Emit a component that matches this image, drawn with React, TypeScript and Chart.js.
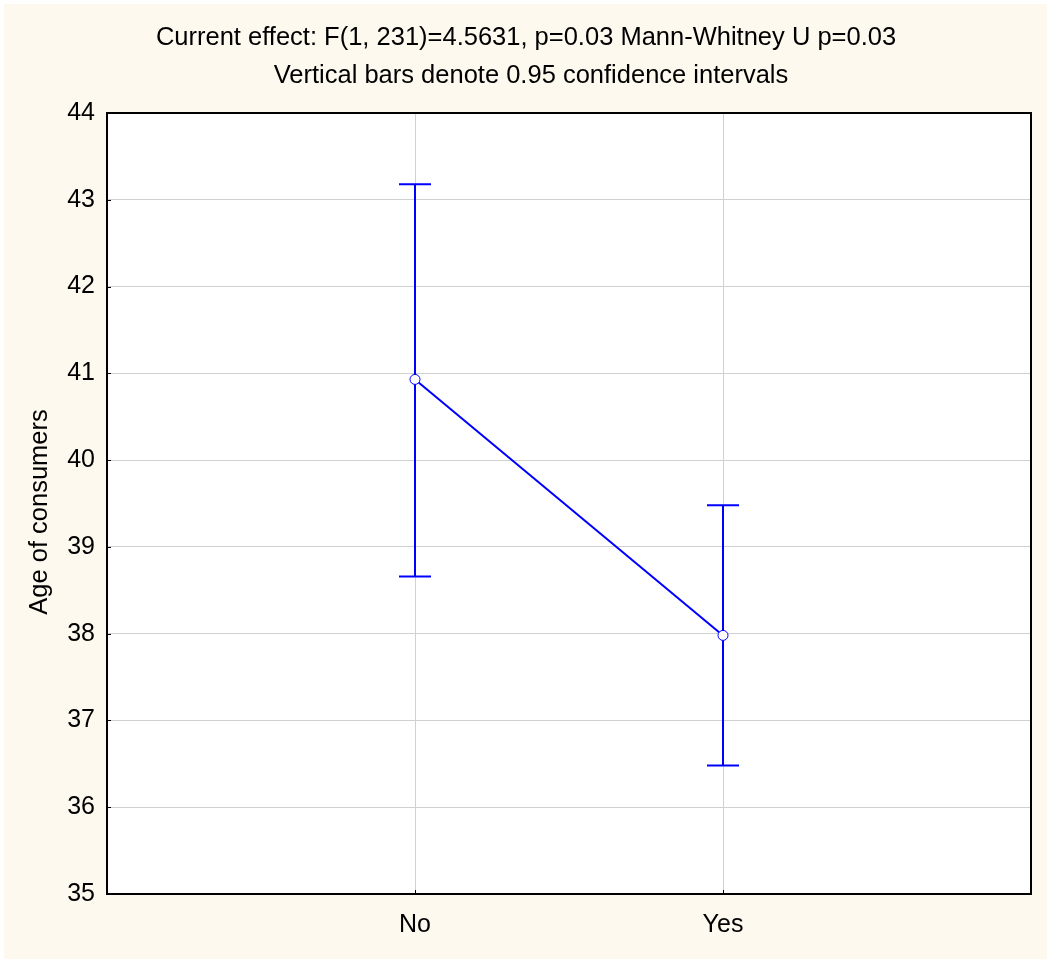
import React, { useEffect, useRef } from "react";
import { Chart, registerables } from "chart.js";

Chart.register(...registerables);

const categories = ["No", "Yes"];
const categoryPositions = [1, 2];
const means = [40.93, 37.98];
const upperCI = [43.18, 39.48];
const lowerCI = [38.66, 36.48];
const yTicks = [35, 36, 37, 38, 39, 40, 41, 42, 43, 44];
const titleLines = [
  "Current effect: F(1, 231)=4.5631, p=0.03 Mann-Whitney U p=0.03",
  "Vertical bars denote 0.95 confidence intervals",
];
const yAxisTitle = "Age of consumers";

const FONT = "'Liberation Sans', Arial, sans-serif";
const BLUE = "#0000FF";

export default function App() {
  const ref = useRef<HTMLCanvasElement | null>(null);

  useEffect(() => {
    const canvas = ref.current;
    if (!canvas) return;

    const decor = {
      id: "decor",
      beforeDraw(chart: any) {
        const { ctx, chartArea: a } = chart;
        ctx.save();
        ctx.fillStyle = "#ffffff";
        ctx.fillRect(a.left, a.top, a.right - a.left, a.bottom - a.top);
        ctx.restore();
      },
      beforeDatasetsDraw(chart: any) {
        const { ctx, chartArea: a, scales } = chart;
        const xs = scales.x;
        const ys = scales.y;
        ctx.save();
        // error bars
        ctx.strokeStyle = BLUE;
        ctx.lineWidth = 2;
        for (let i = 0; i < categoryPositions.length; i++) {
          const px = xs.getPixelForValue(categoryPositions[i]);
          const pu = ys.getPixelForValue(upperCI[i]);
          const pl = ys.getPixelForValue(lowerCI[i]);
          ctx.beginPath();
          ctx.moveTo(px, pu);
          ctx.lineTo(px, pl);
          ctx.moveTo(px - 16, pu);
          ctx.lineTo(px + 16, pu);
          ctx.moveTo(px - 16, pl);
          ctx.lineTo(px + 16, pl);
          ctx.stroke();
        }
        // inward ticks
        ctx.strokeStyle = "#000";
        ctx.lineWidth = 1;
        ctx.beginPath();
        for (const v of yTicks) {
          const py = Math.round(ys.getPixelForValue(v)) + 0.5;
          ctx.moveTo(a.left, py);
          ctx.lineTo(a.left + 4, py);
        }
        for (const v of categoryPositions) {
          const px = Math.round(xs.getPixelForValue(v)) + 0.5;
          ctx.moveTo(px, a.bottom);
          ctx.lineTo(px, a.bottom - 4);
        }
        ctx.stroke();
        // frame
        ctx.lineWidth = 2;
        ctx.strokeStyle = "#000";
        ctx.strokeRect(a.left, a.top, a.right - a.left, a.bottom - a.top);
        ctx.restore();
      },
      afterDraw(chart: any) {
        const { ctx } = chart;
        ctx.save();
        ctx.fillStyle = "#000";
        ctx.font = `25.5px ${FONT}`;
        ctx.textAlign = "center";
        ctx.textBaseline = "alphabetic";
        ctx.fillText(titleLines[0], 522, 41);
        ctx.fillText(titleLines[1], 527, 79);
        ctx.translate(43, 508);
        ctx.rotate(-Math.PI / 2);
        ctx.fillText(yAxisTitle, 0, 0);
        ctx.restore();
      },
    };

    const chart = new Chart(canvas, {
      type: "scatter",
      data: {
        datasets: [
          {
            data: categoryPositions.map((x, i) => ({ x, y: means[i] })),
            showLine: true,
            borderColor: BLUE,
            borderWidth: 2,
            pointRadius: 5,
            pointHoverRadius: 5,
            pointBackgroundColor: "#ffffff",
            pointBorderColor: BLUE,
            pointBorderWidth: 1,
          },
        ],
      },
      options: {
        animation: false,
        responsive: false,
        events: [],
        layout: { padding: { top: 109, left: 0, right: 14, bottom: 0 } },
        plugins: {
          legend: { display: false },
          title: { display: false },
          tooltip: { enabled: false },
        },
        scales: {
          x: {
            type: "linear",
            min: 0,
            max: 3,
            border: { display: false },
            grid: { color: "#d0d0d0", lineWidth: 1, drawTicks: false },
            afterBuildTicks: (scale: any) => {
              scale.ticks = [0, 1, 2, 3].map((v) => ({ value: v }));
            },
            afterFit: (scale: any) => {
              scale.height = 65;
            },
            ticks: {
              color: "#000",
              font: { family: FONT, size: 25 },
              padding: 16,
              maxRotation: 0,
              autoSkip: false,
              callback: (v: any) => {
                const idx = categoryPositions.indexOf(Number(v));
                return idx >= 0 ? categories[idx] : "";
              },
            },
          },
          y: {
            type: "linear",
            min: 35,
            max: 44,
            border: { display: false },
            grid: { color: "#d0d0d0", lineWidth: 1, drawTicks: false },
            afterBuildTicks: (scale: any) => {
              scale.ticks = yTicks.map((v) => ({ value: v }));
            },
            afterFit: (scale: any) => {
              scale.width = 103;
            },
            ticks: {
              color: "#000",
              font: { family: FONT, size: 25 },
              padding: 12,
              callback: (v: any) => String(v),
            },
          },
        },
      },
      plugins: [decor],
    });

    return () => chart.destroy();
  }, []);

  return (
    <div
      style={{
        position: "absolute",
        left: 4,
        top: 4,
        width: 1043,
        height: 955,
        background: "#FEF9EF",
      }}
    >
      <canvas ref={ref} width={1043} height={955} style={{ display: "block" }} />
    </div>
  );
}
